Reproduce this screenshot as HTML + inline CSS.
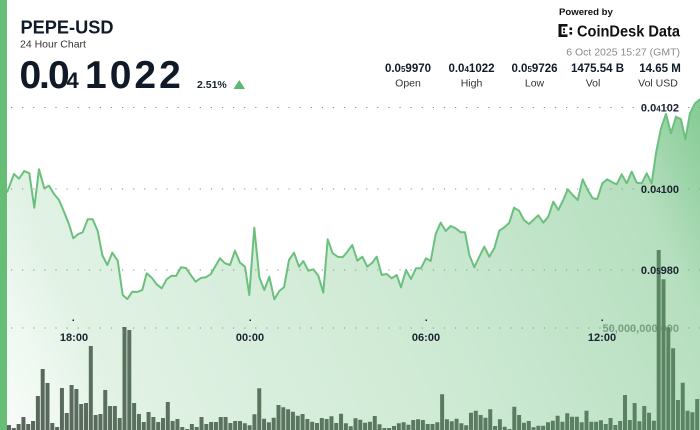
<!DOCTYPE html>
<html>
<head>
<meta charset="utf-8">
<style>
  html,body{margin:0;padding:0;background:#fff;}
  body{width:700px;height:430px;overflow:hidden;}
  svg{display:block;font-family:"Liberation Sans",Arial,sans-serif;}
</style>
</head>
<body>
<svg width="700" height="430" viewBox="0 0 700 430" xmlns="http://www.w3.org/2000/svg">
  <defs>
    <linearGradient id="fillg" gradientUnits="userSpaceOnUse" x1="0" y1="430" x2="700" y2="100">
      <stop offset="0" stop-color="#5cb870" stop-opacity="0.04"/>
      <stop offset="0.08" stop-color="#5cb870" stop-opacity="0.10"/>
      <stop offset="0.15" stop-color="#5cb870" stop-opacity="0.18"/>
      <stop offset="0.6" stop-color="#5cb870" stop-opacity="0.32"/>
      <stop offset="0.88" stop-color="#5cb870" stop-opacity="0.45"/>
      <stop offset="1" stop-color="#5cb870" stop-opacity="0.75"/>
    </linearGradient>
  </defs>

  <!-- grid dotted lines -->
  <g stroke="#8a8a8a" stroke-width="1" stroke-dasharray="1.2 9.9">
    <line x1="11" y1="107.5" x2="700" y2="107.5"/>
    <line x1="11" y1="189" x2="700" y2="189"/>
    <line x1="11" y1="270" x2="700" y2="270"/>
    <line x1="11" y1="328" x2="700" y2="328"/>
  </g>

  <!-- volume axis label (behind bars) -->
  <text x="679" y="332" text-anchor="end" font-size="11" font-weight="bold" fill="#8c8c8c">50,000,000,000</text>

  <!-- volume bars -->
  <path fill="#59605a" d="
M7 425h4V430h-4z M11.81 428h4V430h-4z M16.63 424h4V430h-4z M21.44 417h4V430h-4z M26.25 424h4V430h-4z
M31.06 421h4V430h-4z M35.88 396h4V430h-4z M40.69 369h4V430h-4z M45.5 383h4V430h-4z M50.31 423h4V430h-4z
M55.13 427h4V430h-4z M59.94 388h4V430h-4z M64.75 413h4V430h-4z M69.56 385h4V430h-4z M74.38 389h4V430h-4z
M79.19 404h4V430h-4z M84 403h4V430h-4z M88.81 346h4V430h-4z M93.63 415h4V430h-4z M98.44 414h4V430h-4z
M103.25 390h4V430h-4z M108.06 406h4V430h-4z M112.88 406h4V430h-4z M117.69 418h4V430h-4z M122.5 327h4V430h-4z
M127.31 330h4V430h-4z M132.13 403h4V430h-4z M136.94 414h4V430h-4z M141.75 422h4V430h-4z M146.56 412h4V430h-4z
M151.38 417h4V430h-4z M156.19 422h4V430h-4z M161 418h4V430h-4z M165.81 402h4V430h-4z M170.63 421h4V430h-4z
M175.44 419h4V430h-4z M180.25 427h4V430h-4z M185.06 429h4V430h-4z M189.88 424h4V430h-4z M194.69 427h4V430h-4z
M199.5 417h4V430h-4z M204.31 424h4V430h-4z M209.13 422h4V430h-4z M213.94 422h4V430h-4z M218.75 417h4V430h-4z
M223.56 417h4V430h-4z M228.38 423h4V430h-4z M233.19 421h4V430h-4z M238 421h4V430h-4z M242.81 423.3h4V430h-4z
M247.63 425.3h4V430h-4z M252.44 414.3h4V430h-4z M257.25 388.3h4V430h-4z M262.06 418.7h4V430h-4z M266.88 422.3h4V430h-4z
M271.69 417.7h4V430h-4z M276.5 405h4V430h-4z M281.31 407.3h4V430h-4z M286.13 409.3h4V430h-4z M290.94 411.7h4V430h-4z
M295.75 415.7h4V430h-4z M300.56 414h4V430h-4z M305.38 419h4V430h-4z M310.19 421.7h4V430h-4z M315 423h4V430h-4z
M319.81 418h4V430h-4z M324.63 419h4V430h-4z M329.44 416.3h4V430h-4z M334.25 423h4V430h-4z M339.06 413.7h4V430h-4z
M343.88 423.3h4V430h-4z M348.69 426.3h4V430h-4z M353.5 418.3h4V430h-4z M358.31 419.7h4V430h-4z M363.13 422.7h4V430h-4z
M367.94 421.7h4V430h-4z M372.75 416h4V430h-4z M377.56 424.3h4V430h-4z M382.38 428h4V430h-4z M387.19 428h4V430h-4z
M392 426h4V430h-4z M396.81 423.3h4V430h-4z M401.63 422.3h4V430h-4z M406.44 424.7h4V430h-4z M411.25 420h4V430h-4z
M416.06 419.3h4V430h-4z M420.88 420h4V430h-4z M425.69 424h4V430h-4z M430.5 424h4V430h-4z M435.31 422.3h4V430h-4z
M440.13 394.3h4V430h-4z M444.94 419.3h4V430h-4z M449.75 421.3h4V430h-4z M454.56 418.7h4V430h-4z M459.38 423.3h4V430h-4z
M464.19 425.3h4V430h-4z M469 412.7h4V430h-4z M473.81 410.7h4V430h-4z M478.63 415h4V430h-4z M483.44 417.7h4V430h-4z
M488.25 409.3h4V430h-4z M493.06 426h4V430h-4z M497.88 419.3h4V430h-4z M502.69 426.7h4V430h-4z M507.5 429h4V430h-4z
M512.31 406.7h4V430h-4z M517.13 415h4V430h-4z M521.94 422.7h4V430h-4z M526.75 421h4V430h-4z M531.56 427.3h4V430h-4z
M536.38 425.7h4V430h-4z M541.19 425.7h4V430h-4z M546 422.3h4V430h-4z M550.81 420.7h4V430h-4z M555.63 415.7h4V430h-4z
M560.44 421.7h4V430h-4z M565.25 413.3h4V430h-4z M570.06 416.7h4V430h-4z M574.88 416.7h4V430h-4z M579.69 422.3h4V430h-4z
M584.5 410.7h4V430h-4z M589.31 421.7h4V430h-4z M594.13 421.7h4V430h-4z M598.94 420.3h4V430h-4z M603.75 424h4V430h-4z
M608.56 418h4V430h-4z M613.38 425h4V430h-4z M618.19 421h4V430h-4z M623 395h4V430h-4z M627.81 420h4V430h-4z
M632.63 403h4V430h-4z M637.44 421.3h4V430h-4z M642.25 406h4V430h-4z M647.06 412.7h4V430h-4z M651.88 420.7h4V430h-4z
M656.69 250h4V430h-4z M661.5 279.3h4V430h-4z M666.31 327.3h4V430h-4z M671.13 348.3h4V430h-4z M675.94 400h4V430h-4z
M680.75 382.7h4V430h-4z M685.56 410.7h4V430h-4z M690.38 412.3h4V430h-4z M695.19 399h4V430h-4z"/>

  <!-- price area -->
  <path fill="url(#fillg)" stroke="none" d="M7.3 430 L7.3 191.7 L14 174 L19 178.7 L24.3 171 L29.3 173.3 L34.3 207.7 L39 169.3 L44.3 188.3 L49 185.7 L54 194 L59 200 L64 211.7 L69 224.3 L73.3 238.3 L78.3 234 L82.7 232.3 L87.7 219.3 L92.7 219.3 L97.7 231 L102.3 255 L107.3 265 L112.3 252.7 L117.7 260.7 L122.7 295 L127.3 299 L132.3 291.7 L137.3 292 L142.3 290 L146.7 273.3 L151.7 277.7 L156.7 284.3 L161.7 288.3 L166.7 279.3 L171.7 275.7 L176 276 L181 267.3 L186 268 L190.7 275 L195.7 281.7 L200.7 278 L205.7 277.3 L210.7 274.3 L215 266.7 L220 258.3 L225 263.3 L230 265 L235 250.7 L240 262.7 L245 266.7 L249.3 295 L254.3 227.7 L259.3 277.3 L264.3 290 L269.3 276.7 L274.3 299.3 L279.3 291 L284 287.3 L289 260 L294 252.7 L299 266.7 L303.3 261 L308.3 270.7 L313.3 269.3 L318.3 275.7 L323.3 292.7 L327.7 239.3 L332.7 253.3 L337.7 256.7 L342.7 257.3 L347.3 251.7 L352.3 245 L357.3 260.7 L362.3 256.7 L367.3 266.7 L372.3 262.7 L376.7 256.7 L381.7 275 L386.7 274 L391.7 278.3 L396.7 275 L401 287.3 L406 270 L411 279 L416 268.3 L421 268.3 L426 258.3 L430.7 261 L435.7 234 L440.7 222.7 L445.7 231 L450.7 226 L455.7 228.3 L460.7 232.3 L465 232.3 L469.3 255 L474.3 267.3 L479.3 256.7 L484.3 246.7 L489.3 256.7 L494.3 248.3 L499.3 230.7 L504.3 227.3 L509.3 222.7 L514 207.7 L519 210.7 L524 220 L529 224 L534 219.3 L538.3 215.3 L543.3 222.7 L548.3 216.7 L553.3 201.7 L558.3 210 L563.3 200 L567.7 189.3 L572.7 195 L577.7 200 L582.7 179.3 L587.7 190 L592.7 198.3 L597.3 199 L602.3 183.3 L607.3 179.3 L612.3 182.3 L616.7 184.3 L621.7 174.3 L626.7 183.3 L631.7 171.7 L636.7 182.7 L641.7 183.3 L646.7 173.3 L651.7 183.3 L656 153 L661 128.3 L666 114 L671 133.3 L676 116.7 L681 119.3 L685.3 139.3 L690 113.3 L695 103.3 L700 99.3 L700 430 Z"/>

  <!-- price line -->
  <polyline fill="none" stroke="#6bc07d" stroke-width="2" stroke-linejoin="round" stroke-linecap="round" points="7.3,191.7 14,174 19,178.7 24.3,171 29.3,173.3 34.3,207.7 39,169.3 44.3,188.3 49,185.7 54,194 59,200 64,211.7 69,224.3 73.3,238.3 78.3,234 82.7,232.3 87.7,219.3 92.7,219.3 97.7,231 102.3,255 107.3,265 112.3,252.7 117.7,260.7 122.7,295 127.3,299 132.3,291.7 137.3,292 142.3,290 146.7,273.3 151.7,277.7 156.7,284.3 161.7,288.3 166.7,279.3 171.7,275.7 176,276 181,267.3 186,268 190.7,275 195.7,281.7 200.7,278 205.7,277.3 210.7,274.3 215,266.7 220,258.3 225,263.3 230,265 235,250.7 240,262.7 245,266.7 249.3,295 254.3,227.7 259.3,277.3 264.3,290 269.3,276.7 274.3,299.3 279.3,291 284,287.3 289,260 294,252.7 299,266.7 303.3,261 308.3,270.7 313.3,269.3 318.3,275.7 323.3,292.7 327.7,239.3 332.7,253.3 337.7,256.7 342.7,257.3 347.3,251.7 352.3,245 357.3,260.7 362.3,256.7 367.3,266.7 372.3,262.7 376.7,256.7 381.7,275 386.7,274 391.7,278.3 396.7,275 401,287.3 406,270 411,279 416,268.3 421,268.3 426,258.3 430.7,261 435.7,234 440.7,222.7 445.7,231 450.7,226 455.7,228.3 460.7,232.3 465,232.3 469.3,255 474.3,267.3 479.3,256.7 484.3,246.7 489.3,256.7 494.3,248.3 499.3,230.7 504.3,227.3 509.3,222.7 514,207.7 519,210.7 524,220 529,224 534,219.3 538.3,215.3 543.3,222.7 548.3,216.7 553.3,201.7 558.3,210 563.3,200 567.7,189.3 572.7,195 577.7,200 582.7,179.3 587.7,190 592.7,198.3 597.3,199 602.3,183.3 607.3,179.3 612.3,182.3 616.7,184.3 621.7,174.3 626.7,183.3 631.7,171.7 636.7,182.7 641.7,183.3 646.7,173.3 651.7,183.3 656,153 661,128.3 666,114 671,133.3 676,116.7 681,119.3 685.3,139.3 690,113.3 695,103.3 700,99.3"/>

  <!-- price axis labels -->
  <g font-size="11" font-weight="bold" fill="#1b2230" text-anchor="end">
    <text x="679" y="111.5">0.0<tspan font-size="8">4</tspan>102</text>
    <text x="679" y="193">0.0<tspan font-size="8">4</tspan>100</text>
    <text x="679" y="274">0.0<tspan font-size="8">5</tspan>980</text>
  </g>

  <!-- time ticks & labels -->
  <g fill="#1b2230">
    <rect x="72.5" y="319.5" width="1.5" height="1.5"/>
    <rect x="249.5" y="319.5" width="1.5" height="1.5"/>
    <rect x="425.5" y="319.5" width="1.5" height="1.5"/>
    <rect x="601.5" y="319.5" width="1.5" height="1.5"/>
  </g>
  <g font-size="11" font-weight="bold" fill="#1b2230" text-anchor="middle">
    <text x="74" y="341">18:00</text>
    <text x="250" y="341">00:00</text>
    <text x="426" y="341">06:00</text>
    <text x="602" y="341">12:00</text>
  </g>

  <!-- left green edge -->
  <rect x="0" y="0" width="7" height="430" fill="#66bd76"/>

  <!-- header -->
  <text x="20.5" y="33.3" font-size="18.2" font-weight="bold" fill="#111a28">PEPE-USD</text>
  <text x="20" y="47.5" font-size="10.5" fill="#333">24 Hour Chart</text>

  <g font-weight="bold" fill="#0f1928" font-size="39">
    <text x="19.5" y="88">0</text>
    <text x="39" y="88">.</text>
    <text x="48" y="88">0</text>
    <text x="66.5" y="88" font-size="22">4</text>
    <text x="85" y="88" letter-spacing="3">1022</text>
  </g>
  <text x="197" y="88" font-size="10.5" font-weight="bold" fill="#1b2230">2.51%</text>
  <polygon points="233.5,89 245,89 239.25,80" fill="#5cb870"/>

  <!-- powered by -->
  <text x="559" y="15" font-size="9.6" font-weight="bold" fill="#111">Powered by</text>
  <g fill="#111">
    <rect x="558.5" y="24" width="3" height="13"/>
    <rect x="558.5" y="24" width="9" height="2.6"/>
    <rect x="558.5" y="34.4" width="9" height="2.6"/>
    <rect x="563" y="28.3" width="2" height="2"/>
    <rect x="563" y="31.5" width="2" height="1.5"/>
    <rect x="569.5" y="27.5" width="2.6" height="2.6"/>
    <rect x="569.5" y="32" width="2.6" height="2.6"/>
  </g>
  <text x="577" y="36.5" font-size="16" font-weight="bold" fill="#111" textLength="103" lengthAdjust="spacingAndGlyphs">CoinDesk Data</text>
  <text x="680" y="55.5" font-size="10.5" fill="#8a8a8a" text-anchor="end">6 Oct 2025 15:27 (GMT)</text>

  <!-- stats -->
  <g font-size="11.5" font-weight="bold" fill="#111a28" text-anchor="middle">
    <text x="408" y="72">0.0<tspan font-size="8">5</tspan>9970</text>
    <text x="471.5" y="72">0.0<tspan font-size="8">4</tspan>1022</text>
    <text x="534.5" y="72">0.0<tspan font-size="8">5</tspan>9726</text>
    <text x="597.5" y="72">1475.54 B</text>
    <text x="660" y="72">14.65 M</text>
  </g>
  <g font-size="10.5" fill="#333" text-anchor="middle">
    <text x="408" y="86.5">Open</text>
    <text x="471.5" y="86.5">High</text>
    <text x="534.5" y="86.5">Low</text>
    <text x="593" y="86.5">Vol</text>
    <text x="658" y="86.5">Vol USD</text>
  </g>
</svg>
</body>
</html>
